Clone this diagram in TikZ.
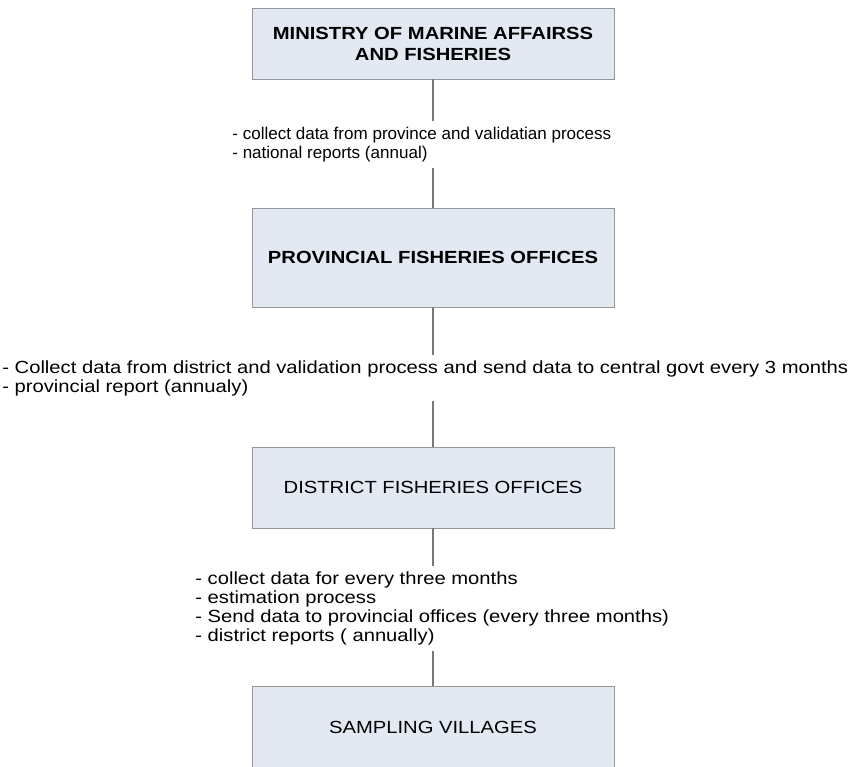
\documentclass[tikz,border=0pt]{standalone}
\usepackage{fontspec}
\setmainfont{Liberation Sans}
\newfontfamily\widesans[FakeStretch=1.15]{Liberation Sans}
\usepackage{tikz}

\definecolor{boxfill}{RGB}{226,233,243}
\definecolor{boxline}{RGB}{150,150,150}
\definecolor{linkline}{RGB}{120,120,120}

\begin{document}
\begin{tikzpicture}[
    box/.style={draw=boxline, fill=boxfill, minimum width=7.24cm, align=center, font=\widesans\fontsize{10}{12}\selectfont},
    note/.style={anchor=west, align=left, inner xsep=0pt, inner ysep=3pt, font=\widesans\fontsize{10}{10.8}\selectfont},
    link/.style={draw=linkline, thick}
]
    \useasboundingbox (0,0) rectangle (17.08,-15.32);

    % Boxes
    \node[box, minimum height=1.42cm, font=\widesans\fontsize{10}{12}\selectfont\bfseries] (ministry) at (8.66,-0.87) {MINISTRY OF MARINE AFFAIRSS\\AND FISHERIES};
    \node[box, minimum height=1.98cm, font=\widesans\fontsize{10}{12}\selectfont\bfseries] (province) at (8.66,-5.15) {PROVINCIAL FISHERIES OFFICES};
    \node[box, minimum height=1.62cm] (district) at (8.66,-9.75) {DISTRICT FISHERIES OFFICES};
    \node[box, minimum height=1.62cm] (village) at (8.66,-14.54) {SAMPLING VILLAGES};

    % Notes
    \node[note, font=\fontsize{9.7}{10.8}\selectfont] (noteA) at (4.64,-2.89) {- collect data from province and validatian process\\- national reports (annual)};
    \node[note] (noteB) at (0.04,-7.56) {- Collect data from district and validation process and send data to central govt every 3 months\\- provincial report (annualy)};
    \node[note] (noteC) at (3.9,-12.17) {- collect data for every three months\\- estimation process\\- Send data to provincial offices (every three months)\\- district reports ( annually)};

    % Links
    \draw[link] (ministry) -- (ministry |- noteA.north);
    \draw[link] (ministry |- noteA.south) -- (province);
    \draw[link] (province) -- (province |- noteB.north);
    \draw[link] (province |- noteB.south) -- (district);
    \draw[link] (district) -- (district |- noteC.north);
    \draw[link] (district |- noteC.south) -- (village);
\end{tikzpicture}
\end{document}
